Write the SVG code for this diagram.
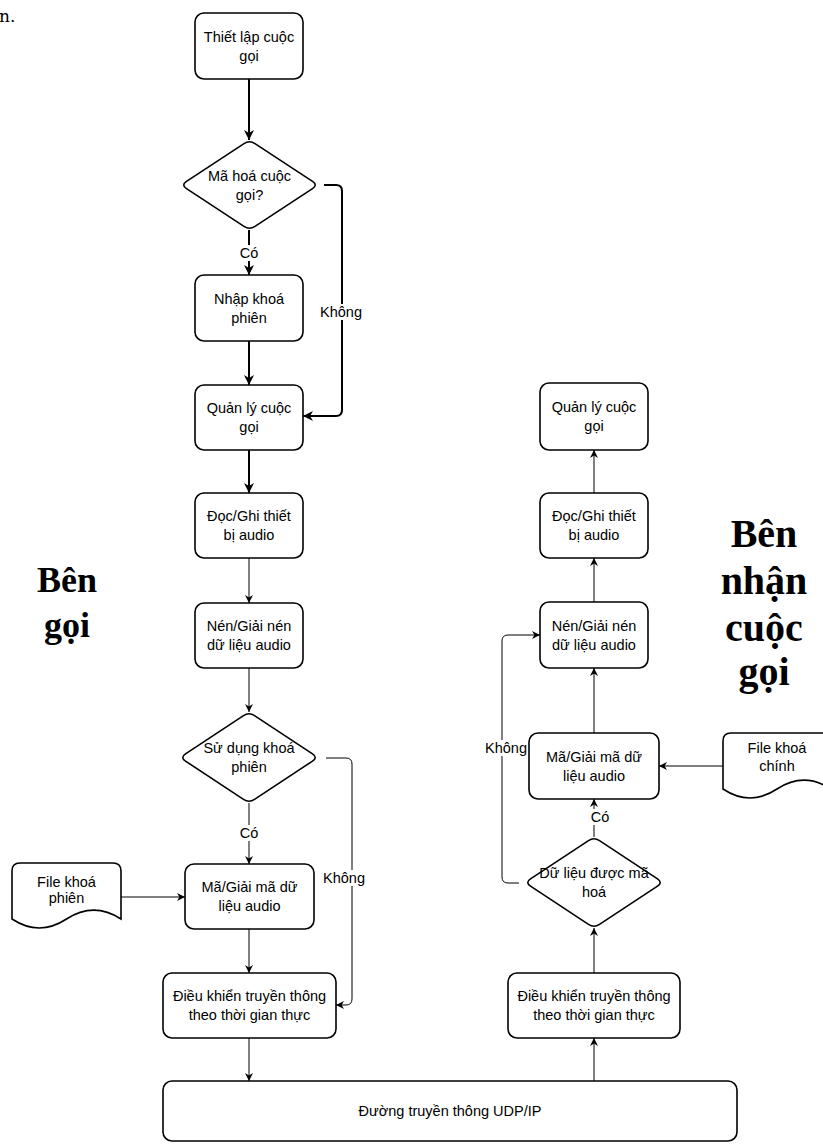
<svg xmlns="http://www.w3.org/2000/svg" width="823" height="1144" viewBox="0 0 823 1144">
<style>
.box{fill:#fff;stroke:#000;stroke-width:1.6}
.t{font-family:"Liberation Sans",Arial,sans-serif;font-size:14.5px;fill:#000;text-anchor:middle}
.big{font-family:"Liberation Serif","Times New Roman",serif;font-weight:bold;fill:#000;text-anchor:middle}
.c{fill:none;stroke:#000;stroke-width:1}
.ck{fill:none;stroke:#000;stroke-width:2}
.bg{fill:#fff}
</style>
<defs>
<marker id="a" viewBox="0 0 10 10" refX="10" refY="5" markerWidth="8" markerHeight="8" markerUnits="userSpaceOnUse" orient="auto"><path d="M0,0 L10,5 L0,10 L3,5 Z" fill="#000"/></marker>
<marker id="ak" viewBox="0 0 10 10" refX="10" refY="5" markerWidth="10" markerHeight="10" markerUnits="userSpaceOnUse" orient="auto"><path d="M0,0 L10,5 L0,10 L3,5 Z" fill="#000"/></marker>
</defs>
<text x="-1" y="22" font-family="DejaVu Serif,serif" font-size="17">n.</text>

<g id="connectors">
<path class="ck" d="M249,79 V140" marker-end="url(#ak)"/>
<path class="ck" d="M249,230 V275" marker-end="url(#ak)"/>
<path class="ck" d="M249,341 V385" marker-end="url(#ak)"/>
<path class="ck" d="M324,185 H336 Q342,185 342,191 V410 Q342,416 336,416 H303" marker-end="url(#ak)"/>
<path class="ck" d="M249,450 V493" marker-end="url(#ak)"/>
<path class="c" d="M249,558 V603" marker-end="url(#a)"/>
<path class="c" d="M249,668 V712" marker-end="url(#a)"/>
<path class="c" d="M249,803 V864" marker-end="url(#a)"/>
<path class="c" d="M326,758 H346 Q352,758 352,764 V999 Q352,1005 346,1005 H336" marker-end="url(#a)"/>
<path class="c" d="M121,897 H185" marker-end="url(#a)"/>
<path class="c" d="M249,929 V973" marker-end="url(#a)"/>
<path class="c" d="M249,1038 V1081" marker-end="url(#a)"/>
<path class="c" d="M594,1081 V1038" marker-end="url(#a)"/>
<path class="c" d="M594,973 V928" marker-end="url(#a)"/>
<path class="c" d="M594,837 V799" marker-end="url(#a)"/>
<path class="c" d="M594,733 V668" marker-end="url(#a)"/>
<path class="c" d="M594,602 V558" marker-end="url(#a)"/>
<path class="c" d="M594,493 V450" marker-end="url(#a)"/>
<path class="c" d="M723,766 H659" marker-end="url(#a)"/>
<path class="c" d="M519,883 H508 Q502,883 502,877 V641 Q502,635 508,635 H540" marker-end="url(#a)"/>
<rect class="bg" x="238" y="245" width="22" height="16"/><text class="t" x="249" y="258">Có</text>
<rect class="bg" x="320" y="304" width="44" height="16"/><text class="t" x="341" y="317">Không</text>
<rect class="bg" x="238" y="825" width="22" height="16"/><text class="t" x="249" y="838">Có</text>
<rect class="bg" x="322" y="870" width="44" height="16"/><text class="t" x="344" y="883">Không</text>
<rect class="bg" x="484" y="740" width="44" height="16"/><text class="t" x="506" y="753">Không</text>
<rect class="bg" x="589" y="809" width="22" height="16"/><text class="t" x="600" y="822">Có</text>
</g>

<g id="n1"><rect class="box" x="195" y="13" width="108" height="66" rx="9"/><text class="t" x="249" y="41.5">Thiết lập cuộc</text><text class="t" x="249" y="60.5">gọi</text></g>
<g id="n2"><path class="box" d="M244,143.6 Q249.5,140 255,143.6 L312.5,181.4 Q318,185 312.5,188.6 L255,226.4 Q249.5,230 244,226.4 L186.5,188.6 Q181,185 186.5,181.4 Z"/><text class="t" x="249.5" y="180.5">Mã hoá cuộc</text><text class="t" x="249.5" y="199.5">gọi?</text></g>
<g id="n3"><rect class="box" x="195" y="275" width="108" height="66" rx="9"/><text class="t" x="249" y="303.5">Nhập khoá</text><text class="t" x="249" y="322.5">phiên</text></g>
<g id="n4"><rect class="box" x="195" y="385" width="108" height="65" rx="9"/><text class="t" x="249" y="413">Quản lý cuộc</text><text class="t" x="249" y="432">gọi</text></g>
<g id="n5"><rect class="box" x="195" y="493" width="108" height="65" rx="9"/><text class="t" x="249" y="521">Đọc/Ghi thiết</text><text class="t" x="249" y="540">bị audio</text></g>
<g id="n6"><rect class="box" x="195" y="603" width="108" height="65" rx="9"/><text class="t" x="249" y="631">Nén/Giải nén</text><text class="t" x="249" y="650">dữ liệu audio</text></g>
<g id="n7"><path class="box" d="M243.5,715.6 Q249,712 254.5,715.6 L312.5,753.9 Q318,757.5 312.5,761.1 L254.5,799.4 Q249,803 243.5,799.4 L185.5,761.1 Q180,757.5 185.5,753.9 Z"/><text class="t" x="249" y="753">Sử dụng khoá</text><text class="t" x="249" y="772">phiên</text></g>
<g id="n8"><path class="box" d="M12,871 Q12,863 20,863 L113,863 Q121,863 121,871 L121,919 Q93.75,901.3 66.5,919 Q39.25,936.9 12,919 Z"/><text class="t" x="66.5" y="887">File khoá</text><text class="t" x="66.5" y="903">phiên</text></g>
<g id="n9"><rect class="box" x="185" y="864" width="129" height="65" rx="9"/><text class="t" x="249.5" y="892">Mã/Giải mã dữ</text><text class="t" x="249.5" y="911">liệu audio</text></g>
<g id="n10"><rect class="box" x="163" y="973" width="173" height="65" rx="9"/><text class="t" x="249.5" y="1001">Điều khiển truyền thông</text><text class="t" x="249.5" y="1020">theo thời gian thực</text></g>
<g id="n11"><rect class="box" x="163" y="1081" width="574" height="60" rx="9"/><text class="t" x="450" y="1116">Đường truyền thông UDP/IP</text></g>

<g id="r1"><rect class="box" x="540" y="383" width="108" height="67" rx="9"/><text class="t" x="594" y="411.5">Quản lý cuộc</text><text class="t" x="594" y="430.5">gọi</text></g>
<g id="r2"><rect class="box" x="540" y="493" width="108" height="65" rx="9"/><text class="t" x="594" y="521">Đọc/Ghi thiết</text><text class="t" x="594" y="540">bị audio</text></g>
<g id="r3"><rect class="box" x="540" y="602" width="108" height="66" rx="9"/><text class="t" x="594" y="630.5">Nén/Giải nén</text><text class="t" x="594" y="649.5">dữ liệu audio</text></g>
<g id="r4"><rect class="box" x="529" y="733" width="130" height="66" rx="9"/><text class="t" x="594" y="761.5">Mã/Giải mã dữ</text><text class="t" x="594" y="780.5">liệu audio</text></g>
<g id="r5"><path class="box" d="M723,741 Q723,733 731,733 L823,733 Q831,733 831,741 L831,789 Q804,771.3 777,789 Q750,806.9 723,789 Z"/><text class="t" x="777" y="753">File khoá</text><text class="t" x="777" y="771">chính</text></g>
<g id="r6"><path class="box" d="M588.5,840.6 Q594,837 599.5,840.6 L657.5,878.9 Q663,882.5 657.5,886.1 L599.5,924.4 Q594,928 588.5,924.4 L530.5,886.1 Q525,882.5 530.5,878.9 Z"/><text class="t" x="594" y="878">Dữ liệu được mã</text><text class="t" x="594" y="897">hoá</text></g>
<g id="r7"><rect class="box" x="508" y="973" width="172" height="65" rx="9"/><text class="t" x="594" y="1001">Điều khiển truyền thông</text><text class="t" x="594" y="1020">theo thời gian thực</text></g>

<g id="lbl-left"><text class="big" font-size="36" x="67" y="592">Bên</text><text class="big" font-size="36" x="67" y="637">gọi</text></g>
<g id="lbl-right"><text class="big" font-size="40" x="764" y="547">Bên</text><text class="big" font-size="40" x="764" y="594">nhận</text><text class="big" font-size="40" x="764" y="641">cuộc</text><text class="big" font-size="40" x="764" y="685">gọi</text></g>
</svg>
